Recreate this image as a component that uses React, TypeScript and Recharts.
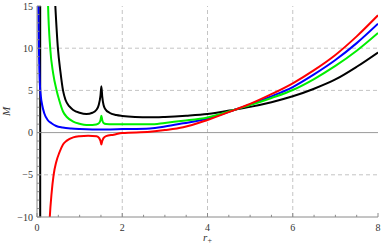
import { LineChart, Line, XAxis, YAxis, ReferenceLine, Label } from "recharts";

// horizon radius r+ (x) and mass M (y)
const blackR = [0.4, 0.43, 0.49, 0.55, 0.61, 0.67, 0.76, 0.85, 1.0, 1.16, 1.3, 1.39, 1.45, 1.49, 1.51, 1.53, 1.56, 1.6, 1.7, 1.86, 2.0, 2.3, 2.65, 3.0, 3.5, 4.0, 4.64, 5.0, 5.5, 6.0, 6.5, 7.0, 7.5, 8.0];
const blackM = [18, 15, 10, 7.2, 5.0, 3.86, 3.1, 2.68, 2.35, 2.2, 2.35, 2.68, 3.3, 4.4, 5.5, 4.3, 3.3, 2.8, 2.35, 2.08, 1.97, 1.85, 1.81, 1.86, 2.0, 2.2, 2.72, 3.05, 3.6, 4.3, 5.2, 6.3, 7.8, 9.5];

const greenR = [0.25, 0.26, 0.31, 0.38, 0.46, 0.52, 0.61, 0.7, 0.85, 1.0, 1.16, 1.3, 1.39, 1.46, 1.49, 1.51, 1.53, 1.56, 1.62, 1.71, 2.0, 2.65, 3.0, 3.43, 4.0, 4.64, 5.0, 5.5, 6.0, 6.5, 7.0, 7.5, 8.0];
const greenM = [17, 15, 10, 7, 5, 3.86, 2.5, 1.85, 1.3, 1.05, 0.9, 0.9, 0.95, 1.15, 1.5, 2.0, 1.5, 1.15, 1.02, 1.0, 0.98, 0.98, 1.15, 1.4, 1.8, 2.7, 3.25, 4.1, 5.05, 6.35, 7.9, 9.7, 11.8];

const blueR = [0.02, 0.03, 0.045, 0.065, 0.09, 0.12, 0.17, 0.25, 0.34, 0.45, 0.6, 0.8, 1.0, 1.3, 1.6, 2.0, 2.65, 3.0, 3.43, 4.0, 4.64, 5.0, 5.5, 6.0, 6.5, 7.0, 7.5, 8.0];
const blueM = [18, 15, 10, 6, 4.3, 3.3, 2.3, 1.5, 1.1, 0.78, 0.6, 0.48, 0.42, 0.38, 0.38, 0.42, 0.5, 0.72, 1.1, 1.65, 2.7, 3.35, 4.3, 5.4, 6.9, 8.6, 10.6, 12.9];

const redR = [0.28, 0.3, 0.34, 0.39, 0.45, 0.53, 0.61, 0.7, 0.85, 1.0, 1.2, 1.4, 1.46, 1.49, 1.51, 1.53, 1.56, 1.62, 1.8, 2.0, 2.65, 3.0, 3.43, 4.0, 4.64, 5.0, 5.5, 6.0, 6.5, 7.0, 7.5, 8.0];
const redM = [-12, -10, -7.3, -5, -3.5, -2.3, -1.4, -0.95, -0.56, -0.42, -0.36, -0.42, -0.65, -1.0, -1.4, -1.0, -0.65, -0.42, -0.25, -0.05, 0.1, 0.3, 0.63, 1.5, 2.7, 3.4, 4.55, 5.84, 7.4, 9.2, 11.4, 13.9];

// near-vertical black branch close to r+ = 0
const blackBranchR = 0.075;

const xTicks = [0, 0.5, 1, 1.5, 2, 2.5, 3, 3.5, 4, 4.5, 5, 5.5, 6, 6.5, 7, 7.5, 8];
const xLabels = [0, 2, 4, 6, 8];
const yTicks = [-10, -9, -8, -7, -6, -5, -4, -3, -2, -1, 0, 1, 2, 3, 4, 5, 6, 7, 8, 9, 10, 11, 12, 13, 14, 15];
const yLabels = [-10, -5, 0, 5, 10, 15];
const xGrid = [2, 4, 6];
const yGrid = [-5, 5, 10];

const zip = (r: number[], m: number[]) => r.map((v, i) => ({ r: v, m: m[i] }));

const FRAME = "#8a8a8a";
const FONT = "'Liberation Serif', 'DejaVu Serif', serif";
const fmt = (v: number) => (v < 0 ? `\u2212${-v}` : `${v}`);

function tickLen(major: boolean) {
  return major ? 4 : 2.2;
}

function BottomTick(props: any) {
  const { x, y, payload } = props;
  const major = xLabels.includes(payload.value);
  return (
    <g>
      <line x1={x} x2={x} y1={y} y2={y - tickLen(major)} stroke={FRAME} />
      {major && (
        <text x={x} y={y + 14} textAnchor="middle" fontFamily={FONT} fontSize={10} fill="#333">
          {fmt(payload.value)}
        </text>
      )}
    </g>
  );
}

function TopTick(props: any) {
  const { x, y, payload } = props;
  const major = xLabels.includes(payload.value);
  return <line x1={x} x2={x} y1={y} y2={y + tickLen(major)} stroke={FRAME} />;
}

function LeftTick(props: any) {
  const { x, y, payload } = props;
  const major = yLabels.includes(payload.value);
  return (
    <g>
      <line x1={x} x2={x + tickLen(major)} y1={y} y2={y} stroke={FRAME} />
      {major && (
        <text x={x - 4} y={y + 3.5} textAnchor="end" fontFamily={FONT} fontSize={10} fill="#333">
          {fmt(payload.value)}
        </text>
      )}
    </g>
  );
}

function RightTick(props: any) {
  const { x, y, payload } = props;
  const major = yLabels.includes(payload.value);
  return <line x1={x} x2={x - tickLen(major)} y1={y} y2={y} stroke={FRAME} />;
}

export default function App() {
  return (
    <div style={{ position: "absolute", left: 0, top: 0 }}>
      <LineChart width={382} height={250} margin={{ top: 6, right: 4, bottom: 0, left: 0 }}>
        <XAxis
          dataKey="r"
          type="number"
          domain={[0, 8]}
          ticks={xTicks}
          interval={0}
          allowDataOverflow
          height={33}
          tickSize={0}
          tickMargin={0}
          tickLine={false}
          axisLine={{ stroke: FRAME }}
          tick={<BottomTick />}
        >
          <Label
            content={({ viewBox }: any) => (
              <text x={viewBox.x + viewBox.width / 2} y={viewBox.y + 24} textAnchor="middle" fontFamily={FONT} fontSize={11} fill="#333">
                <tspan fontStyle="italic">r</tspan>
                <tspan fontSize={8} dy={2}>+</tspan>
              </text>
            )}
          />
        </XAxis>
        <XAxis
          xAxisId="top"
          orientation="top"
          type="number"
          domain={[0, 8]}
          ticks={xTicks}
          interval={0}
          height={0}
          tickSize={0}
          tickMargin={0}
          tickLine={false}
          axisLine={{ stroke: FRAME }}
          tick={<TopTick />}
        />
        <YAxis
          type="number"
          domain={[-10, 15]}
          ticks={yTicks}
          interval={0}
          allowDataOverflow
          width={37}
          tickSize={0}
          tickMargin={0}
          tickLine={false}
          axisLine={{ stroke: FRAME }}
          tick={<LeftTick />}
        >
          <Label
            content={({ viewBox }: any) => {
              const cx = viewBox.x + 6;
              const cy = viewBox.y + viewBox.height / 2;
              return (
                <text x={cx} y={cy} transform={`rotate(-90 ${cx} ${cy})`} textAnchor="middle" dominantBaseline="central" fontFamily={FONT} fontStyle="italic" fontSize={11} fill="#333">
                  M
                </text>
              );
            }}
          />
        </YAxis>
        <YAxis
          yAxisId="right"
          orientation="right"
          type="number"
          domain={[-10, 15]}
          ticks={yTicks}
          interval={0}
          width={0}
          tickSize={0}
          tickMargin={0}
          tickLine={false}
          axisLine={{ stroke: FRAME }}
          tick={<RightTick />}
        />

        {xGrid.map((v) => (
          <ReferenceLine key={`gx${v}`} x={v} stroke="#c4c4c4" strokeDasharray="4 3" />
        ))}
        {yGrid.map((v) => (
          <ReferenceLine key={`gy${v}`} y={v} stroke="#c4c4c4" strokeDasharray="4 3" />
        ))}
        <ReferenceLine y={0} stroke="#9a9a9a" />
        <ReferenceLine x={blackBranchR} stroke="#000" strokeWidth={2} />

        <Line data={zip(blackR, blackM)} dataKey="m" type="monotone" stroke="#000" strokeWidth={2} dot={false} isAnimationActive={false} />
        <Line data={zip(blueR, blueM)} dataKey="m" type="monotone" stroke="#0000ff" strokeWidth={2} dot={false} isAnimationActive={false} />
        <Line data={zip(greenR, greenM)} dataKey="m" type="monotone" stroke="#00ee00" strokeWidth={2} dot={false} isAnimationActive={false} />
        <Line data={zip(redR, redM)} dataKey="m" type="monotone" stroke="#ff0000" strokeWidth={2} dot={false} isAnimationActive={false} />
      </LineChart>
    </div>
  );
}
